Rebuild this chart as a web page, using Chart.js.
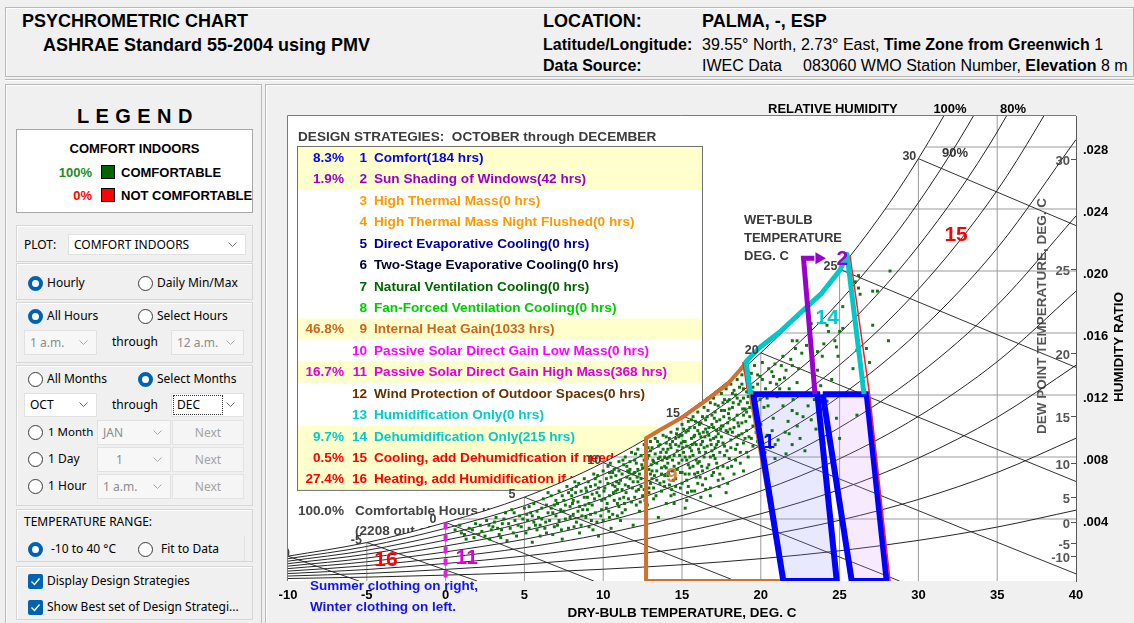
<!DOCTYPE html>
<html>
<head>
<meta charset="utf-8">
<script src="https://cdn.jsdelivr.net/npm/chart.js@4.4.1/dist/chart.umd.min.js"></script>
<style>
html, body { margin: 0; padding: 0; width: 1134px; height: 623px; overflow: hidden; background: #f0f0f0; }
.t { position: absolute; white-space: nowrap; line-height: 1; }
.hb { font-family: "Liberation Sans", Arial, sans-serif; font-weight: bold; }
.hn { font-family: "Liberation Sans", Arial, sans-serif; font-weight: normal; }
.ui { font-family: "Noto Sans", sans-serif; font-size: 12px; color: #000; }
.box { position: absolute; box-sizing: border-box; }
.grp { position: absolute; box-sizing: border-box; border: 1px solid #d6d6d6; box-shadow: inset 1px 1px 0 #fff; }
.rad { position: absolute; width: 15px; height: 15px; border-radius: 50%; box-sizing: border-box; border: 1px solid #3a3a3a; background: #fff; }
.rad.on { border: 4.5px solid #0063b1; }
.sel { position: absolute; box-sizing: border-box; border: 1px solid #e1e1e1; background: #fff; display: flex; align-items: center; padding-left: 5px; font-family: "Noto Sans", sans-serif; font-size: 12px; line-height: 1; color: #000; }
.sel.dis { background: #f7f7f7; color: #8c8c8c; }
.sel svg { position: absolute; right: 8px; top: 50%; margin-top: -3px; }
.btn { position: absolute; box-sizing: border-box; border: 1px solid #e3e3e3; background: #f5f5f5; color: #a3a3a3; display: flex; align-items: center; justify-content: center; font-family: "Noto Sans", sans-serif; font-size: 12px; line-height: 1; }
.chk { position: absolute; width: 15px; height: 15px; border-radius: 2px; background: #0063b1; }
#psy { position: absolute; left: 0; top: 0; }
</style>
</head>
<body>

<!-- header -->
<div class="box" style="left:5px;top:7px;width:1129px;height:70px;border:1px solid #b9b9b9;box-shadow:inset 1px 1px 0 #fff;"></div>
<div class="box" style="left:5px;top:79px;width:1129px;height:2px;border-top:1px solid #b9b9b9;border-bottom:1px solid #fff;"></div>
<div class="t hb" style="left:22px;top:12px;font-size:18px;">PSYCHROMETRIC CHART</div>
<div class="t hb" style="left:43px;top:36px;font-size:18px;">ASHRAE Standard 55-2004 using PMV</div>
<div class="t hb" style="left:543px;top:12px;font-size:18px;">LOCATION:</div>
<div class="t hb" style="left:702px;top:12px;font-size:18px;">PALMA, -, ESP</div>
<div class="t hb" style="left:543px;top:37px;font-size:16px;">Latitude/Longitude:</div>
<div class="t hn" style="left:702px;top:37px;font-size:16px;">39.55° North, 2.73° East, <b>Time Zone from Greenwich</b> 1</div>
<div class="t hb" style="left:543px;top:58px;font-size:16px;">Data Source:</div>
<div class="t hn" style="left:702px;top:58px;font-size:16px;">IWEC Data</div>
<div class="t hn" style="left:803px;top:58px;font-size:16px;">083060 WMO Station Number, <b>Elevation</b> 8 m</div>

<!-- panels -->
<div class="box" style="left:5px;top:84px;width:257px;height:545px;border:1px solid #b9b9b9;box-shadow:inset 1px 1px 0 #fff;"></div>
<div class="box" style="left:265px;top:84px;width:875px;height:545px;border:1px solid #b9b9b9;box-shadow:inset 1px 1px 0 #fff;"></div>

<!-- legend -->
<div class="t hb" style="left:77px;top:105.5px;font-size:20px;letter-spacing:6.4px;">LEGEND</div>
<div class="box" style="left:16px;top:129px;width:237px;height:84px;background:#fff;border:1px solid #a8a8a8;"></div>
<div class="t hb" style="left:16px;width:237px;text-align:center;top:141.9px;font-size:13px;">COMFORT INDOORS</div>
<div class="t hb" style="left:40px;width:52px;text-align:right;top:166.3px;font-size:13px;color:#1f8b1f;">100%</div>
<div class="box" style="left:101px;top:165px;width:14px;height:14px;background:#006400;border:1px solid #000;"></div>
<div class="t hb" style="left:121px;top:166.3px;font-size:13px;">COMFORTABLE</div>
<div class="t hb" style="left:40px;width:52px;text-align:right;top:189.3px;font-size:13px;color:#ff0000;">0%</div>
<div class="box" style="left:101px;top:188px;width:14px;height:14px;background:#ff0000;border:1px solid #000;"></div>
<div class="t hb" style="left:121px;top:189.3px;font-size:13px;">NOT COMFORTABLE</div>

<!-- plot selector -->
<div class="grp" style="left:16px;top:225px;width:237px;height:37px;"></div>
<div class="t ui" style="left:24px;top:238.5px;">PLOT:</div>
<div class="sel" style="left:68px;top:234px;width:178px;height:21px;">COMFORT INDOORS<svg width="9" height="6"><polyline points="0.5,0.5 4.5,4.5 8.5,0.5" fill="none" stroke="#6a6a6a"/></svg></div>

<div class="grp" style="left:16px;top:263px;width:237px;height:37px;"></div>
<div class="rad on" style="left:27.5px;top:275.8px;"></div>
<div class="t ui" style="left:47px;top:276.8px;">Hourly</div>
<div class="rad" style="left:137.8px;top:275.8px;"></div>
<div class="t ui" style="left:157px;top:276.8px;">Daily Min/Max</div>

<div class="grp" style="left:16px;top:302px;width:237px;height:61px;"></div>
<div class="rad on" style="left:27.5px;top:309.2px;"></div>
<div class="t ui" style="left:47px;top:310.2px;">All Hours</div>
<div class="rad" style="left:137.5px;top:309.2px;"></div>
<div class="t ui" style="left:157px;top:310.2px;">Select Hours</div>
<div class="sel dis" style="left:24px;top:330px;width:73px;height:25px;">1 a.m.<svg width="9" height="6"><polyline points="0.5,0.5 4.5,4.5 8.5,0.5" fill="none" stroke="#aaa"/></svg></div>
<div class="t ui" style="left:112px;top:336.2px;">through</div>
<div class="sel dis" style="left:171px;top:330px;width:73px;height:25px;">12 a.m.<svg width="9" height="6"><polyline points="0.5,0.5 4.5,4.5 8.5,0.5" fill="none" stroke="#aaa"/></svg></div>

<div class="grp" style="left:16px;top:365px;width:237px;height:141px;"></div>
<div class="rad" style="left:27.5px;top:371.5px;"></div>
<div class="t ui" style="left:47px;top:372.5px;">All Months</div>
<div class="rad on" style="left:137.5px;top:371.5px;"></div>
<div class="t ui" style="left:157px;top:372.5px;">Select Months</div>
<div class="sel" style="left:24px;top:393px;width:73px;height:24px;">OCT<svg width="9" height="6"><polyline points="0.5,0.5 4.5,4.5 8.5,0.5" fill="none" stroke="#6a6a6a"/></svg></div>
<div class="t ui" style="left:112px;top:398.5px;">through</div>
<div class="sel" style="left:171px;top:393px;width:73px;height:24px;">DEC<svg width="9" height="6"><polyline points="0.5,0.5 4.5,4.5 8.5,0.5" fill="none" stroke="#6a6a6a"/></svg></div>
<div class="box" style="left:173px;top:395px;width:50px;height:20px;border:1px dotted #333;"></div>
<div class="rad" style="left:27.5px;top:424.8px;"></div>
<div class="t ui" style="left:48px;top:425.8px;font-size:11.5px;">1 Month</div>
<div class="sel dis" style="left:97px;top:420px;width:74px;height:25px;">JAN<svg width="9" height="6"><polyline points="0.5,0.5 4.5,4.5 8.5,0.5" fill="none" stroke="#aaa"/></svg></div>
<div class="btn" style="left:172px;top:420px;width:72px;height:25px;">Next</div>
<div class="rad" style="left:27.5px;top:451.8px;"></div>
<div class="t ui" style="left:48px;top:452.8px;">1 Day</div>
<div class="sel dis" style="left:97px;top:447px;width:74px;height:25px;padding-left:18px;">1<svg width="9" height="6"><polyline points="0.5,0.5 4.5,4.5 8.5,0.5" fill="none" stroke="#aaa"/></svg></div>
<div class="btn" style="left:172px;top:447px;width:72px;height:25px;">Next</div>
<div class="rad" style="left:27.5px;top:478.8px;"></div>
<div class="t ui" style="left:48px;top:479.8px;">1 Hour</div>
<div class="sel dis" style="left:97px;top:474px;width:74px;height:25px;">1 a.m.<svg width="9" height="6"><polyline points="0.5,0.5 4.5,4.5 8.5,0.5" fill="none" stroke="#aaa"/></svg></div>
<div class="btn" style="left:172px;top:474px;width:72px;height:25px;">Next</div>

<div class="grp" style="left:16px;top:509px;width:237px;height:53px;"></div>
<div class="t ui" style="left:24px;top:516.2px;">TEMPERATURE RANGE:</div>
<div class="rad on" style="left:27.5px;top:541.8px;"></div>
<div class="t ui" style="left:51px;top:542.8px;">-10 to 40 °C</div>
<div class="rad" style="left:137.5px;top:541.8px;"></div>
<div class="t ui" style="left:161px;top:542.8px;">Fit to Data</div>
<div class="box" style="left:244px;top:536px;width:1px;height:25px;background:#e0e0e0;"></div>

<div class="grp" style="left:16px;top:566px;width:237px;height:54px;"></div>
<div class="chk" style="left:27.5px;top:573.5px;"><svg width="15" height="15"><polyline points="3.5,7.5 6.5,10.5 11.5,4.5" fill="none" stroke="#fff" stroke-width="1.4"/></svg></div>
<div class="t ui" style="left:47px;top:574.5px;">Display Design Strategies</div>
<div class="chk" style="left:27.5px;top:599.5px;"><svg width="15" height="15"><polyline points="3.5,7.5 6.5,10.5 11.5,4.5" fill="none" stroke="#fff" stroke-width="1.4"/></svg></div>
<div class="t ui" style="left:47px;top:600.5px;">Show Best set of Design Strategi...</div>

<canvas id="psy" width="1134" height="623"></canvas>

<script>
/* Chart values */

// dry-bulb steps (deg C) used for the relative humidity curves
const dryBulbSteps = [-10, -5, 0, 5, 10, 15, 20, 25, 30, 35, 40];

// humidity ratio (kg/kg) of each relative humidity curve at those steps
const rh100 = [.00160, .00248, .00378, .00541, .00764, .01066, .01472, .02011, .02725, .03663, .04900];
const rh90 = [.00144, .00223, .00340, .00486, .00687, .00958, .01321, .01804, .02441, .03278, .04372];
const rh80 = [.00128, .00198, .00302, .00432, .00610, .00850, .01172, .01599, .02161, .02897, .03856];
const rh70 = [.00112, .00173, .00264, .00377, .00533, .00743, .01023, .01394, .01882, .02520, .03348];
const rh60 = [.00096, .00148, .00226, .00323, .00456, .00635, .00875, .01191, .01607, .02147, .02848];
const rh50 = [.00080, .00124, .00188, .00269, .00380, .00529, .00727, .00990, .01333, .01779, .02355];
const rh40 = [.00064, .00099, .00151, .00215, .00304, .00422, .00581, .00789, .01062, .01415, .01870];
const rh30 = [.00048, .00074, .00113, .00161, .00227, .00316, .00434, .00590, .00793, .01056, .01392];
const rh20 = [.00032, .00049, .00075, .00108, .00151, .00210, .00289, .00392, .00526, .00700, .00921];
const rh10 = [.00016, .00025, .00038, .00054, .00076, .00105, .00144, .00195, .00262, .00348, .00457];

// humidity ratio ticks and the dew point where each one meets saturation
const humidityTicks = [.004, .008, .012, .016, .020, .024, .028];
const humidityTickDewPoint = [0.77, 10.67, 16.81, 21.32, 24.92, 27.89, 30.49];

// constant dry-bulb lines
const dryBulbGrid = [-5, 0, 5, 10, 15, 20, 25, 30, 35];

// wet-bulb lines: start on saturation, end point given
const wetBulbTemps = [-10, -5, 0, 5, 10, 15, 20, 25, 30];
const wetBulbEndT = [-5.5, 2.0, 9.4, 18.4, 28.8, 40, 40, 40, 40];
const wetBulbEndW = [0, 0, 0, 0, 0, .00046, .00642, .01378, .02293];

// dew point labels on the right axis
const dewPointLabels = [30, 25, 20, 15, 10, 5, 0, -5, -10];

// design strategy zones [dry-bulb, humidity ratio]
const zoneComfortWinter = [[19.52, .01205], [23.59, .01205], [24.82, 0], [21.43, 0]];
const zoneComfortSummer = [[23.93, .01205], [26.72, .01205], [27.99, 0], [25.77, 0]];
const zoneDehumid = [[19.35, .01206], [19.06, .01415], [19.95, .01508], [21.22, .01608], [22.70, .01748], [23.86, .01856], [25.03, .02006], [25.47, .02108], [26.55, .01206]];
const zoneHeatGain = [[12.72, 0], [12.72, .00921], [13.60, .00974], [15.08, .01060], [16.57, .01168], [17.84, .01265], [18.68, .01361], [19.06, .01410], [19.35, .01206], [21.43, 0]];
const zoneShading = [[23.44, .01206], [22.71, .02082], [23.40, .02082]];
const zoneShadingArrow = [[23.69, .02082]];
const zonePassiveSolar = [[0, .00378], [0, 0]];
const zoneCoolingEdgeRight = [[25.66, .02100], [26.90, .01206], [28.20, 0]];
const zoneCoolingEdgeLeft = [[18.87, .01413], [19.19, .01206]];

// strategy table
const strategyNames = [
  'Comfort(184 hrs)', 'Sun Shading of Windows(42 hrs)', 'High Thermal Mass(0 hrs)',
  'High Thermal Mass Night Flushed(0 hrs)', 'Direct Evaporative Cooling(0 hrs)',
  'Two-Stage Evaporative Cooling(0 hrs)', 'Natural Ventilation Cooling(0 hrs)',
  'Fan-Forced Ventilation Cooling(0 hrs)', 'Internal Heat Gain(1033 hrs)',
  'Passive Solar Direct Gain Low Mass(0 hrs)', 'Passive Solar Direct Gain High Mass(368 hrs)',
  'Wind Protection of Outdoor Spaces(0 hrs)', 'Humidification Only(0 hrs)',
  'Dehumidification Only(215 hrs)', 'Cooling, add Dehumidfication if needed(111 hrs)',
  'Heating, add Humidification if needed(605 hrs)'
];
const strategyShare = ['8.3%', '1.9%', '', '', '', '', '', '', '46.8%', '', '16.7%', '', '', '9.7%', '0.5%', '27.4%'];
const comfortTotal = '100.0%';

// hourly weather points, OCT-DEC [dry-bulb, humidity ratio]
const hourlyPoints = [
  [0.6,.0033],[0.9,.0036],[1.2,.0030],[1.5,.0034],[1.8,.0028],[1.9,.0037],[2.3,.0032],[2.6,.0039],[2.8,.0027],[3.0,.0035],
  [3.2,.0041],[3.4,.0030],[3.6,.0037],[3.8,.0044],[3.9,.0026],[4.1,.0034],[4.2,.0046],[4.4,.0039],[4.5,.0029],[4.7,.0042],
  [4.8,.0035],[5.0,.0047],[5.1,.0031],[5.2,.0039],[5.4,.0044],[5.5,.0025],[5.6,.0050],[5.7,.0036],[5.9,.0041],[6.0,.0029],
  [6.1,.0047],[6.2,.0053],[6.3,.0034],[6.5,.0044],[6.6,.0039],
  [6.7,.0055],[6.8,.0030],[6.9,.0049],[7.0,.0042],[7.1,.0036],[7.2,.0058],[7.3,.0046],[7.4,.0027],[7.5,.0052],[7.6,.0040],
  [7.7,.0061],[7.8,.0034],[7.9,.0048],[8.0,.0055],[8.1,.0043],[8.2,.0064],[8.3,.0038],[8.4,.0051],[8.5,.0031],[8.6,.0058],
  [8.7,.0046],[8.8,.0066],[8.9,.0041],[9.0,.0054],[9.1,.0035],[9.2,.0061],[9.3,.0049],[9.4,.0069],[9.5,.0044],[9.6,.0057],
  [9.7,.0029],[9.8,.0064],[9.9,.0052],[10.0,.0071],[10.0,.0039],
  [10.1,.0060],[10.2,.0047],[10.3,.0074],[10.4,.0055],[10.5,.0034],[10.5,.0067],[10.6,.0043],[10.7,.0072],[10.8,.0058],[10.9,.0050],
  [11.0,.0077],[11.0,.0063],[11.1,.0039],[11.2,.0069],[11.3,.0054],[11.4,.0080],[11.4,.0046],[11.5,.0074],[11.6,.0061],[11.7,.0066],
  [11.8,.0083],[11.8,.0051],[11.9,.0036],[12.0,.0078],[12.0,.0070],[12.1,.0058],[12.2,.0085],[12.2,.0064],[12.3,.0045],[12.4,.0081],
  [12.5,.0073],[12.5,.0055],[12.6,.0088],[12.7,.0067],[12.8,.0079],[12.8,.0049],[12.9,.0060],[13.0,.0090],[13.0,.0084],[13.1,.0071],
  [13.2,.0053],[13.2,.0077],[13.3,.0092],[13.4,.0065],[13.5,.0087],[13.5,.0041],[13.6,.0080],[13.7,.0058],[13.7,.0073],[13.8,.0094],
  [13.9,.0068],[14.0,.0089],[14.0,.0083],[14.0,.0050],[14.1,.0076],[14.2,.0062],[14.3,.0096],[14.3,.0086],[14.4,.0071],
  [14.5,.0081],[14.5,.0056],[14.6,.0092],[14.6,.0066],[14.7,.0098],[14.8,.0076],[14.8,.0087],[14.9,.0060],[15.0,.0101],[15.0,.0094],
  [15.0,.0070],[15.1,.0083],[15.2,.0047],[15.2,.0090],[15.3,.0078],[15.3,.0065],[15.4,.0103],[15.4,.0097],[15.5,.0086],[15.5,.0073],
  [15.6,.0058],[15.6,.0092],[15.7,.0081],[15.7,.0106],[15.8,.0069],[15.8,.0099],[15.9,.0088],[16.0,.0076],[16.0,.0109],[16.0,.0063],
  [16.1,.0095],[16.1,.0083],[16.2,.0102],[16.2,.0054],[16.3,.0071],[16.3,.0090],[16.4,.0112],[16.4,.0080],[16.5,.0098],[16.5,.0066],
  [16.6,.0087],[16.6,.0106],[16.7,.0075],[16.7,.0094],[16.8,.0115],[16.8,.0060],[16.9,.0084],[16.9,.0101],[17.0,.0092],[17.0,.0070],
  [17.0,.0118],[17.1,.0109],[17.1,.0079],[17.2,.0097],[17.2,.0088],[17.3,.0065],[17.3,.0113],[17.4,.0104],[17.4,.0083],[17.5,.0093],
  [17.5,.0121],[17.6,.0074],[17.6,.0100],[17.7,.0110],[17.7,.0087],[17.8,.0124],[17.8,.0057],[17.9,.0096],[17.9,.0116],[18.0,.0079],
  [18.0,.0105],[18.1,.0091],[18.1,.0127],[18.2,.0112],[18.3,.0069],[18.3,.0099],[18.4,.0120],[18.4,.0085],[18.5,.0130],[18.5,.0107],
  [18.6,.0094],[18.7,.0116],[18.7,.0076],[18.8,.0133],[18.8,.0102],[18.9,.0124],[18.9,.0089],[19.0,.0111],[19.0,.0136],[19.1,.0097],
  [19.1,.0083],[19.2,.0119],[19.2,.0128],[19.3,.0106],[19.4,.0092],[19.4,.0115],[19.5,.0100],[19.5,.0125],
  [10.2,.0066],[10.4,.0070],[10.6,.0062],[10.8,.0068],[11.0,.0071],[11.2,.0059],[11.3,.0075],[11.5,.0067],[11.7,.0072],[11.9,.0064],
  [12.1,.0076],[12.3,.0069],[12.4,.0061],[12.6,.0078],[12.7,.0083],[12.9,.0072],[13.1,.0066],[13.3,.0082],[13.4,.0076],[13.6,.0088],
  [13.7,.0069],[13.9,.0080],[14.1,.0085],[14.2,.0092],[14.4,.0078],[14.6,.0088],[14.7,.0072],[14.9,.0094],[15.1,.0090],[15.2,.0080],
  [15.4,.0075],[15.5,.0099],[15.6,.0084],[15.8,.0094],[15.9,.0078],[16.1,.0101],[16.2,.0088],[16.3,.0106],[16.5,.0083],[16.6,.0096],
  [16.8,.0091],[16.9,.0107],[17.1,.0086],[17.2,.0103],[17.3,.0095],[17.5,.0110],[17.6,.0089],[17.7,.0117],[17.9,.0102],[18.0,.0117],
  [18.2,.0096],[18.3,.0123],[18.5,.0088],[18.6,.0114],[18.8,.0095],[18.9,.0118],[19.1,.0109],[19.3,.0131],[14.0,.0073],[13.0,.0063],
  [12.0,.0054],[11.0,.0048],[9.0,.0046],[9.5,.0062],[8.5,.0048],[8.0,.0059],[7.5,.0045],[7.0,.0052],[6.5,.0057],[6.0,.0036],
  [5.5,.0042],[10.9,.0042],[12.9,.0057],[13.9,.0061],[15.0,.0063],[16.0,.0070],[17.0,.0081],[16.5,.0059],[17.6,.0066],[14.5,.0050],
  [15.3,.0052],[16.8,.0055],[17.9,.0063],[18.9,.0071],[15.8,.0058],
  [1.0,.0031],[1.3,.0027],[1.7,.0033],[2.1,.0030],[2.2,.0036],[2.5,.0029],[2.9,.0033],[3.1,.0038],[3.3,.0034],[3.5,.0028],
  [3.7,.0040],[4.0,.0037],[4.3,.0031],[4.6,.0036],[4.9,.0040],[5.3,.0034],[5.8,.0045],[6.4,.0049],[6.8,.0044],[7.1,.0050],
  [5.3,.0048],[5.6,.0038],[5.8,.0033],[6.1,.0040],[6.4,.0031],[6.7,.0047],[6.9,.0035],[7.2,.0039],[7.4,.0055],[7.6,.0049],
  [7.8,.0057],[7.9,.0041],[8.1,.0052],[8.3,.0061],[8.4,.0045],[8.6,.0036],[8.8,.0054],[8.9,.0060],[9.1,.0050],[9.2,.0043],
  [9.3,.0056],[9.5,.0066],[9.6,.0038],[9.7,.0060],[9.9,.0046],[10.1,.0053],[10.3,.0063],[10.4,.0041],[10.6,.0070],[10.7,.0052],
  [10.9,.0059],[11.1,.0065],[11.2,.0044],[11.4,.0062],[11.6,.0053],[11.7,.0077],[11.9,.0069],[12.1,.0049],[12.2,.0072],[12.4,.0066],
  [12.6,.0059],[12.7,.0074],[12.9,.0081],[13.0,.0069],[13.1,.0086],[13.2,.0060],[13.4,.0071],[13.5,.0079],[13.6,.0063],[13.8,.0085],
  [13.9,.0074],[14.0,.0093],[14.1,.0068],[14.2,.0080],[14.3,.0055],[14.4,.0090],[14.5,.0074],[14.6,.0061],[14.7,.0084],[14.8,.0093],
  [14.9,.0070],[15.0,.0078],[15.1,.0098],[15.2,.0069],[15.3,.0087],[15.4,.0061],[15.5,.0080],[15.6,.0104],[15.7,.0074],[15.8,.0089],
  [15.9,.0067],[16.0,.0097],[16.1,.0077],[16.2,.0093],[16.3,.0062],[16.4,.0086],[16.5,.0104],[16.6,.0073],[16.7,.0099],[16.8,.0080],
  [16.9,.0068],[17.0,.0099],[17.1,.0114],[17.2,.0076],[17.3,.0090],[17.4,.0069],[17.5,.0100],[17.6,.0115],[17.7,.0081],[17.8,.0097],
  [17.9,.0073],[18.0,.0111],[18.1,.0086],[18.2,.0121],[18.3,.0104],[18.4,.0078],[18.5,.0118],[18.6,.0100],[18.7,.0083],[18.8,.0127],
  [18.9,.0107],[19.0,.0092],[19.1,.0122],[19.2,.0080],[19.3,.0112],[19.4,.0134],[19.5,.0087],[19.6,.0117],[19.7,.0096],[19.8,.0133],
  [8.05,.0050],[8.25,.0057],[8.45,.0063],[8.65,.0042],[8.85,.0049],[9.05,.0064],[9.25,.0039],[9.45,.0053],[9.65,.0068],[9.85,.0042],
  [10.05,.0058],[10.25,.0050],[10.45,.0076],[10.65,.0057],[10.85,.0064],[11.05,.0053],[11.25,.0078],[11.45,.0057],[11.65,.0070],[11.85,.0060],
  [12.05,.0082],[12.25,.0059],[12.45,.0075],[12.65,.0052],[12.85,.0086],[13.05,.0075],[13.25,.0068],[13.45,.0090],[13.65,.0083],[13.85,.0064],
  [14.05,.0079],[14.25,.0088],[14.45,.0065],[14.65,.0095],[14.85,.0081],[15.05,.0086],[15.25,.0096],[15.45,.0069],[15.65,.0088],[15.85,.0103],
  [16.05,.0085],[16.25,.0074],[16.45,.0093],[16.65,.0110],[16.85,.0088],[17.05,.0105],[17.25,.0073],[17.45,.0098],[17.65,.0106],[17.85,.0084],
  [18.05,.0098],[18.25,.0115],[18.45,.0093],[18.65,.0125],[18.85,.0111],[19.05,.0103],[19.25,.0093],[19.45,.0122],[18.15,.0074],[17.35,.0061],
  [16.15,.0067],[15.35,.0057],[14.35,.0059],[13.35,.0055],[12.35,.0051],[11.35,.0050],[10.35,.0045],[9.35,.0033],[8.15,.0035],[7.35,.0033],
  [6.35,.0038],[5.15,.0043],[4.35,.0044],[3.55,.0033],[2.75,.0036],[12.15,.0067],[13.75,.0078],[14.95,.0089],[16.35,.0096],[17.15,.0093],
  [17.95,.0108],[18.55,.0102],[19.15,.0115],[15.75,.0093],[14.15,.0070],[13.15,.0078],[11.55,.0071],[10.75,.0061],[9.75,.0055],[8.95,.0058],
  [19.6,.0139],[19.8,.0127],[20.1,.0141],[20.3,.0124],[20.6,.0128],[20.9,.0140],[21.6,.0136],[21.8,.0124],[19.7,.0108],[20.0,.0101],
  [20.4,.0094],[19.8,.0090],[20.2,.0112],[21.2,.0124],[20.1,.0130],[20.4,.0118],[20.7,.0135],[21.0,.0127],[21.3,.0139],[21.5,.0131],
  [21.9,.0143],[22.4,.0137],[22.6,.0147],[22.9,.0152],[20.6,.0086],[21.1,.0091],[21.8,.0095],[22.3,.0108],[23.2,.0104],[23.4,.0117],
  [21.6,.0082],[20.9,.0079],
  [19.95,.0117],[20.46,.0113],[21.03,.0119],[21.41,.0113],[22.05,.0117],[21.99,.0110],[20.79,.0105],[21.73,.0103],[20.72,.0097],[21.55,.0096],
  [22.31,.0100],[20.91,.0088],[21.99,.0088],[22.68,.0106],[23.0,.0113],[22.49,.0092],[20.27,.0083],
  [22.3,.0155],[22.2,.0150],[23.1,.0163],[23.3,.0143],[23.9,.0145],[22.0,.0139],[20.8,.0132],[20.5,.0137],[21.4,.0145],[21.2,.0130],
  [19.95,.0132],[22.3,.0128],[23.6,.0136],[23.8,.0126],[24.5,.0130],[24.7,.0155],[25.0,.0161],[24.2,.0165],[24.9,.0145],[25.85,.0137],
  [26.2,.0189],[26.7,.0150],[26.9,.0141],[27.1,.0165],[27.4,.0187],[28.2,.0200],[27.1,.0187],[28.1,.0155],[25.2,.0177],[26.3,.0185],
  [24.3,.0161],[24.8,.0151],[26.1,.0149],[24.0,.0153],[23.2,.0166],[23.6,.0148],[25.2,.0163],[26.0,.0193],[26.2,.0197],[22.0,.0155],
  [24.2,.0116],[24.8,.0105],[26.1,.0107],[25.0,.0092],[23.5,.0098],[22.8,.0084],[24.0,.0089]
];

/* Styles */
const FONT = '"Liberation Sans", Arial, sans-serif';
const bold = px => 'bold ' + px + 'px ' + FONT;
const strategyColors = ['#0000ff', '#9900cc', '#ff9900', '#ff9900', '#000099', '#000033', '#006600', '#00cc00',
  '#cc6622', '#ff00ff', '#dd00dd', '#663300', '#00cccc', '#00cccc', '#ff0000', '#ff0000'];
const zoneLabels = [
  { text: '16', t: -3.78, w: .00139, color: '#ff0000' },
  { text: '11', t: 1.34, w: .00155, color: '#dd00dd' },
  { text: '9', t: 14.35, w: .00684, color: 'rgba(214,112,40,0.85)' },
  { text: '1', t: 20.52, w: .00899, color: '#0000ff' },
  { text: '14', t: 24.21, w: .0170, color: '#00cccc' },
  { text: '2', t: 25.18, w: .02081, color: '#9900cc' },
  { text: '15', t: 32.39, w: .02239, color: '#ff0000' }
];

/* Dataset helpers */
function xy(pairs) { return pairs.map(p => ({ x: p[0], y: p[1] })); }
function closed(pairs) { return xy(pairs.concat([pairs[0]])); }
function curve(arr) { return dryBulbSteps.map((t, i) => ({ x: t, y: arr[i] })); }
function seg(data, color, width, order, extra) {
  return Object.assign({ data: data, borderColor: color, borderWidth: width, pointRadius: 0, fill: false, order: order, clip: 0 }, extra || {});
}
const satAt = t => rh100[dryBulbSteps.indexOf(t)];

const datasets = [];

// white cover under the saturation curve (hides the table corner)
datasets.push({ data: curve(rh100).slice(0, 8), borderWidth: 0, pointRadius: 0, fill: 'origin', backgroundColor: '#ffffff',
  cubicInterpolationMode: 'monotone', order: 100, clip: 0 });

// constant dry-bulb and humidity ratio lines
dryBulbGrid.forEach(t => datasets.push(seg(xy([[t, 0], [t, satAt(t)]]), '#9a9a9a', 1, 90)));
humidityTicks.forEach((w, i) => datasets.push(seg(xy([[humidityTickDewPoint[i], w], [40, w]]), '#9a9a9a', 1, 90)));

// relative humidity curves
[rh100, rh90, rh80, rh70, rh60, rh50, rh40, rh30, rh20, rh10].forEach(c =>
  datasets.push(seg(curve(c), '#262626', 1, 80, { cubicInterpolationMode: 'monotone' })));

// wet-bulb lines
wetBulbTemps.forEach((t, i) =>
  datasets.push(seg(xy([[t, satAt(t)], [wetBulbEndT[i], wetBulbEndW[i]]]), '#333333', 1, 80)));

// comfort zone fills
datasets.push(seg(closed(zoneComfortWinter), 'rgba(0,0,0,0)', 0, 60, { fill: 'shape', backgroundColor: 'rgba(140,140,255,0.2)' }));
datasets.push(seg(closed(zoneComfortSummer), 'rgba(0,0,0,0)', 0, 60, { fill: 'shape', backgroundColor: 'rgba(215,150,255,0.2)' }));

// hourly points
datasets.push({ data: xy(hourlyPoints), showLine: false, pointStyle: 'rect', pointRadius: 2.1, pointBorderWidth: 0,
  pointBackgroundColor: '#137313', order: 50, clip: 0 });

// strategy outlines
datasets.push(seg(closed(zoneHeatGain), '#cf722f', 4, 45, { borderJoinStyle: 'round' }));
datasets.push(seg(closed(zoneComfortWinter), '#0000ff', 6, 40, { borderJoinStyle: 'miter' }));
datasets.push(seg(closed(zoneComfortSummer), '#0000ff', 6, 40, { borderJoinStyle: 'miter' }));
datasets.push(seg(xy(zoneCoolingEdgeRight), '#ff2020', 1.5, 38));
datasets.push(seg(xy(zoneCoolingEdgeLeft), '#ff2020', 1.5, 38));
datasets.push(seg(xy(zoneDehumid), '#00c8c8', 5, 35, { borderJoinStyle: 'round' }));
datasets.push(seg(xy(zoneShading), '#9900cc', 5, 30, { borderJoinStyle: 'miter' }));
datasets.push({ data: xy(zoneShadingArrow), showLine: false, pointStyle: 'triangle', pointRotation: 90, pointRadius: 7,
  pointBorderWidth: 0, pointBackgroundColor: '#9900cc', order: 30, clip: 0 });
datasets.push(seg(xy(zonePassiveSolar), '#e01ee0', 4, 30, { borderDash: [7, 5] }));

/* Text drawn on the canvas */
function drawStrategyTable(ctx) {
  const left = 298, top = 147, width = 404, rowH = 21.43;
  ctx.font = bold(13.6);
  ctx.textBaseline = 'middle';
  ctx.textAlign = 'left';
  ctx.fillStyle = '#3c3c3c';
  ctx.fillText('DESIGN STRATEGIES:  OCTOBER through DECEMBER', 298, 137);
  ctx.fillStyle = '#ffffff';
  ctx.fillRect(left, top, width, rowH * 16);
  strategyNames.forEach((name, i) => {
    const y = top + i * rowH;
    if (strategyShare[i]) {
      ctx.fillStyle = '#ffffcc';
      ctx.fillRect(left, y, width, rowH);
    }
    const cy = y + rowH / 2 + 0.5;
    ctx.fillStyle = strategyColors[i];
    ctx.textAlign = 'right';
    if (strategyShare[i]) ctx.fillText(strategyShare[i], 344, cy);
    ctx.fillText(String(i + 1), 367, cy);
    ctx.textAlign = 'left';
    ctx.fillText(name, 374, cy);
  });
  ctx.strokeStyle = '#707070';
  ctx.lineWidth = 1;
  ctx.strokeRect(left - 0.5, top - 0.5, width + 1, rowH * 16 + 1);
  ctx.fillStyle = '#444444';
  ctx.textAlign = 'right';
  ctx.fillText(comfortTotal, 344, 511);
  ctx.textAlign = 'left';
  ctx.fillText('Comfortable Hours using Selected Design Strategies', 355, 511);
  ctx.fillText('(2208 out of 2208 hours)', 355, 531);
}

const decor = {
  id: 'decor',
  beforeDraw(chart) {
    const { ctx, chartArea: a } = chart;
    ctx.save();
    ctx.fillStyle = '#ffffff';
    ctx.fillRect(a.left, a.top, a.right - a.left, a.bottom - a.top);
    drawStrategyTable(ctx);
    ctx.strokeStyle = '#7a7a7a';
    ctx.lineWidth = 1;
    ctx.beginPath();
    ctx.moveTo(a.left - 0.5, a.bottom);
    ctx.lineTo(a.left - 0.5, a.top - 0.5);
    ctx.lineTo(a.right, a.top - 0.5);
    ctx.stroke();
    ctx.restore();
  },
  beforeDatasetsDraw(chart) {
    const { ctx, chartArea: a, scales: { x, y } } = chart;
    ctx.save();
    // dew point axis (inside right edge)
    ctx.font = bold(13);
    ctx.fillStyle = '#555555';
    ctx.strokeStyle = '#555555';
    ctx.textAlign = 'right';
    ctx.textBaseline = 'middle';
    dewPointLabels.forEach(t => {
      const py = y.getPixelForValue(satAt(t));
      ctx.fillText(String(t), a.right - 6, py + 2.5);
      ctx.beginPath();
      ctx.moveTo(a.right - 5, Math.round(py) + 0.5);
      ctx.lineTo(a.right, Math.round(py) + 0.5);
      ctx.stroke();
    });
    ctx.translate(1042, 316);
    ctx.rotate(-Math.PI / 2);
    ctx.textAlign = 'center';
    ctx.font = bold(13.5);
    ctx.fillText('DEW POINT TEMPERATURE, DEG. C', 0, 0);
    ctx.restore();
    ctx.save();
    ctx.font = bold(13);
    ctx.fillStyle = '#333333';
    ctx.textAlign = 'center';
    ctx.textBaseline = 'middle';
    ctx.fillText('90%', 955, 153);
    ctx.restore();
  },
  afterDatasetsDraw(chart) {
    const { ctx, chartArea: a, scales: { x, y } } = chart;
    ctx.save();
    ctx.beginPath();
    ctx.rect(a.left, a.top, a.right - a.left, a.bottom - a.top);
    ctx.clip();
    // wet-bulb labels at the saturation curve
    ctx.font = bold(12.5);
    ctx.fillStyle = '#404040';
    ctx.textAlign = 'left';
    ctx.textBaseline = 'alphabetic';
    wetBulbTemps.forEach(t => {
      const px = x.getPixelForValue(t), py = y.getPixelForValue(satAt(t));
      ctx.fillText(String(t), px - 16, py + 1);
    });
    // strategy zone numbers
    ctx.font = bold(21);
    ctx.textAlign = 'center';
    ctx.textBaseline = 'middle';
    zoneLabels.forEach(l => {
      ctx.fillStyle = l.color;
      ctx.fillText(l.text, x.getPixelForValue(l.t), y.getPixelForValue(l.w) + 1);
    });
    ctx.font = bold(13);
    ctx.fillStyle = '#3a3a3a';
    ctx.textAlign = 'left';
    ctx.fillText('WET-BULB', 744, 220.5);
    ctx.fillText('TEMPERATURE', 744, 238.5);
    ctx.fillText('DEG. C', 744, 256.5);
    ctx.restore();
  },
  afterDraw(chart) {
    const { ctx } = chart;
    ctx.save();
    ctx.font = bold(13);
    ctx.fillStyle = '#000000';
    ctx.textBaseline = 'middle';
    ctx.textAlign = 'left';
    ctx.fillText('RELATIVE HUMIDITY', 768, 109);
    ctx.textAlign = 'center';
    ctx.fillText('100%', 950, 109);
    ctx.fillText('80%', 1013, 109);
    ctx.save();
    ctx.translate(1119, 347);
    ctx.rotate(-Math.PI / 2);
    ctx.font = bold(13.5);
    ctx.fillText('HUMIDITY RATIO', 0, 0);
    ctx.restore();
    ctx.font = bold(13.5);
    ctx.fillStyle = '#1414f0';
    ctx.textAlign = 'left';
    ctx.fillText('Summer clothing on right,', 310, 586);
    ctx.fillText('Winter clothing on left.', 310, 607);
    ctx.restore();
  }
};

const chart = new Chart(document.getElementById('psy'), {
  type: 'line',
  data: { datasets: datasets },
  options: {
    responsive: false,
    animation: false,
    devicePixelRatio: 1,
    events: [],
    layout: { padding: { left: 288, top: 116, right: 0, bottom: 0 } },
    elements: { point: { radius: 0 }, line: { tension: 0 } },
    plugins: { legend: { display: false }, tooltip: { enabled: false } },
    scales: {
      x: {
        type: 'linear', min: -10, max: 40,
        afterFit: s => { s.height = 42; },
        ticks: { stepSize: 5, padding: 6.5, color: '#000', font: { family: FONT, size: 13, weight: 'bold' } },
        grid: { display: false, drawTicks: false },
        border: { display: false },
        title: { display: true, text: 'DRY-BULB TEMPERATURE, DEG. C', color: '#000',
          font: { family: FONT, size: 13.5, weight: 'bold' }, padding: { top: 0, bottom: 2 } }
      },
      y: {
        type: 'linear', position: 'right', min: 0, max: 0.030,
        afterFit: s => { s.width = 58; },
        afterBuildTicks: s => { s.ticks = humidityTicks.map(v => ({ value: v })); },
        ticks: { padding: 7, labelOffset: 3, color: '#000', font: { family: FONT, size: 13, weight: 'bold' },
          callback: v => v.toFixed(3).slice(1) },
        grid: { display: false, drawTicks: false },
        border: { display: true, color: '#5a5a5a' }
      }
    }
  },
  plugins: [decor]
});
</script>
</body>
</html>
